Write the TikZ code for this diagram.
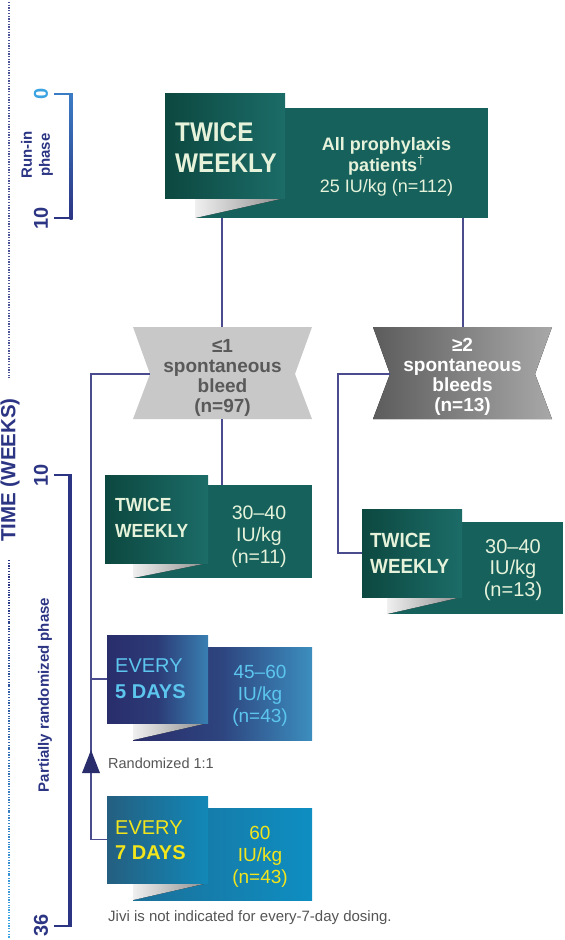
\documentclass[tikz,border=0pt]{standalone}
\usepackage{fontspec}
\setmainfont{Liberation Sans}
\newfontfamily\condbold[FakeStretch=0.9]{Liberation Sans Bold}
\newfontfamily\condboldb[FakeStretch=0.92]{Liberation Sans Bold}
\definecolor{navy}{HTML}{2C3583}
\definecolor{axisblue}{HTML}{3BA3E2}
\definecolor{runtop}{HTML}{3A7CC4}
\definecolor{connc}{HTML}{4A4C8E}
\definecolor{tealA}{HTML}{0C4840}
\definecolor{tealB}{HTML}{1C6C68}
\definecolor{tealR}{HTML}{17615D}
\definecolor{cream}{HTML}{E6F3DA}
\definecolor{lgray}{HTML}{C8C8C8}
\definecolor{dgrayA}{HTML}{5C5C5C}
\definecolor{dgrayB}{HTML}{A8A8A8}
\definecolor{tgray}{HTML}{595959}
\definecolor{navA}{HTML}{292D6B}
\definecolor{navB}{HTML}{3C8EBE}
\definecolor{skyt}{HTML}{5CC6EE}
\definecolor{blA}{HTML}{245F80}
\definecolor{blB}{HTML}{1288B8}
\definecolor{blRA}{HTML}{1B7099}
\definecolor{blRB}{HTML}{0E8EC2}
\definecolor{yel}{HTML}{F3E51C}
\definecolor{ftgray}{HTML}{555555}
\tikzset{
  box/.style={inner sep=0pt, outer sep=0pt, anchor=north west, draw=none},
  foldsh/.style={left color=black!6, right color=black!45},
  conn/.style={draw=connc, line width=1.1pt},
  dotl/.style={line width=1.3pt, dash pattern=on 1.3pt off 1.4pt},
  axlab/.style={rotate=90, text=navy, font=\bfseries\fontsize{20}{20}\selectfont, inner sep=0pt},
  sqt/.style={anchor=west, align=left, inner sep=0pt},
  rtt/.style={align=center, inner sep=0pt},
  bowt/.style={align=center, inner sep=0pt, font=\bfseries\fontsize{19}{20}\selectfont},
}
\begin{document}
\begin{tikzpicture}[x=1pt,y=-1pt]
\useasboundingbox (0,0) rectangle (565,940);

% ---------- time axis ----------
\draw[dotl, draw=navy!85] (9,2) -- (9,378);
\foreach \i in {0,...,11}{
  \pgfmathsetmacro{\p}{100*\i/11}
  \draw[dotl, draw=axisblue!\p!navy] (9,{560+\i*31.5}) -- (9,{560+(\i+1)*31.5});
}
\node[rotate=90, text=navy, font=\bfseries\fontsize{20.5}{20.5}\selectfont, inner sep=0pt] (timelab) at (10,470) {TIME (WEEKS)};

% run-in bracket
\shade[top color=runtop, bottom color=navy] (69.5,94) rectangle (72.5,219);
\draw[line width=2pt, runtop] (54,94) -- (72.5,94);
\draw[line width=2pt, navy] (54,218) -- (72.5,218);
\node[axlab, text=axisblue] (l0) at (41,94) {0};
\node[axlab] (l10a) at (41,218) {10};
\node[rotate=90, align=center, text=navy, font=\bfseries\fontsize{15}{18}\selectfont, inner sep=0pt] (runin) at (37,155) {Run-in\\phase};

% partially randomized bracket
\fill[navy] (67.5,474) rectangle (72,927);
\draw[line width=2pt, navy] (54,475) -- (72,475);
\draw[line width=2pt, navy] (54,926) -- (72,926);
\node[axlab] (l10b) at (41,475) {10};
\node[axlab] (l36) at (41,925) {36};
\node[rotate=90, text=navy, font=\bfseries\fontsize{15}{18}\selectfont, inner sep=0pt] (prand) at (45,695) {Partially randomized phase};

% ---------- top box ----------
\node[box, fill=tealR, minimum width=293pt, minimum height=110pt] (topR) at (195,108) {};
\fill[foldsh] (195,198) -- (285,198) -- (195,218) -- cycle;
\node[box, left color=tealA, right color=tealB, minimum width=120pt, minimum height=105pt] (topS) at (165,93) {};
\node[sqt, text=cream, font=\condbold\fontsize{27}{30.5}\selectfont] (topSt) at (175,147.6) {TWICE\\WEEKLY};
\node[rtt, text=cream, font=\fontsize{18}{21}\selectfont] (topRt) at (386.5,166.5) {\textbf{All prophylaxis}\\\textbf{patients}\textsuperscript{†}\\25 IU/kg (n=112)};

% ---------- bleed boxes ----------
\fill[lgray] (133,327) -- (312,327) -- (295,374) -- (312,419) -- (133,419) -- (150,374) -- cycle;
\coordinate (le1N) at (222,327);
\coordinate (le1S) at (222,419);
\coordinate (le1W) at (150,374);
\node[bowt, text=tgray] (le1) at (222.5,377.5) {≤1\\spontaneous\\bleed\\(n=97)};

\fill[left color=dgrayA, right color=dgrayB] (373,327) -- (552,327) -- (535,374) -- (552,419) -- (373,419) -- (390,374) -- cycle;
\coordinate (ge2N) at (463,327);
\coordinate (ge2W) at (390,374);
\node[bowt, text=white] (ge2) at (462.5,377) {≥2\\spontaneous\\bleeds\\(n=13)};

% ---------- twice weekly n=11 ----------
\node[box, fill=tealR, minimum width=179pt, minimum height=93pt] (t11R) at (133,485) {};
\fill[foldsh] (133,563) -- (208,563) -- (133,578) -- cycle;
\node[box, left color=tealA, right color=tealB, minimum width=103pt, minimum height=88pt] (t11S) at (105,475) {};
\node[sqt, text=cream, font=\condboldb\fontsize{19}{25.5}\selectfont] (t11St) at (115,518) {TWICE\\WEEKLY};
\node[rtt, text=cream, font=\fontsize{19.5}{22}\selectfont] (t11Rt) at (259,536.5) {30–40\\IU/kg\\(n=11)};

% ---------- twice weekly n=13 ----------
\node[box, fill=tealR, minimum width=176pt, minimum height=92pt] (t13R) at (387,522) {};
\fill[foldsh] (387,597) -- (462,597) -- (387,614) -- cycle;
\node[box, left color=tealA, right color=tealB, minimum width=100pt, minimum height=88pt] (t13S) at (362,509) {};
\node[sqt, text=cream, font=\condboldb\fontsize{20.5}{26.5}\selectfont] (t13St) at (370,553.2) {TWICE\\WEEKLY};
\node[rtt, text=cream, font=\fontsize{20}{21.5}\selectfont] (t13Rt) at (513,569.6) {30–40\\IU/kg\\(n=13)};

% ---------- every 5 days ----------
\node[box, left color=navA, right color=navB, middle color=navA!75!navB, minimum width=179pt, minimum height=93pt] (e5R) at (133,647) {};
\fill[foldsh] (133,723) -- (208,723) -- (133,740) -- cycle;
\node[box, left color=navA, right color=navB!85!navA, middle color=navA!85!navB, minimum width=101pt, minimum height=88pt] (e5S) at (107,635) {};
\node[sqt, text=skyt, font=\fontsize{20}{26}\selectfont] (e5St) at (115,679) {EVERY\\\textbf{5 DAYS}};
\node[rtt, text=skyt, font=\fontsize{19}{22}\selectfont] (e5Rt) at (260,695.4) {45–60\\IU/kg\\(n=43)};

\node[anchor=base west, inner sep=0pt, text=ftgray, font=\fontsize{14.5}{17}\selectfont] (rand) at (108,768) {Randomized 1:1};

% ---------- every 7 days ----------
\node[box, left color=blRA, right color=blRB, minimum width=179pt, minimum height=92pt] (e7R) at (133,808) {};
\fill[foldsh] (133,883) -- (208,883) -- (133,900) -- cycle;
\node[box, left color=blA, right color=blB, minimum width=101pt, minimum height=87pt] (e7S) at (107,796) {};
\node[sqt, text=yel, font=\fontsize{20}{25}\selectfont] (e7St) at (115,840.4) {EVERY\\\textbf{7 DAYS}};
\node[rtt, text=yel, font=\fontsize{19}{22}\selectfont] (e7Rt) at (260,857) {60\\IU/kg\\(n=43)};

\node[anchor=base west, inner sep=0pt, text=ftgray, font=\fontsize{15}{18}\selectfont] (foot) at (108,921) {Jivi is not indicated for every-7-day dosing.};

% ---------- connectors ----------
\draw[conn] (topR.south -| le1N) -- (le1N);
\draw[conn] (topR.south -| ge2N) -- (ge2N);
\draw[conn] (le1S) -- (le1S |- t11R.north);
\draw[conn] (ge2W) -| ([xshift=-24pt]t13S.west) -- (t13S.west);
\draw[conn] (le1W) -| ([xshift=-16pt]e7S.west) -- (e7S.west);
\draw[conn] (e5S.west) -- ([xshift=-16pt]e5S.west);
\coordinate (arrtip) at (91,750);
\fill[navA] (arrtip) -- ++(9,23) -- ++(-18,0) -- cycle;
\end{tikzpicture}
\end{document}
